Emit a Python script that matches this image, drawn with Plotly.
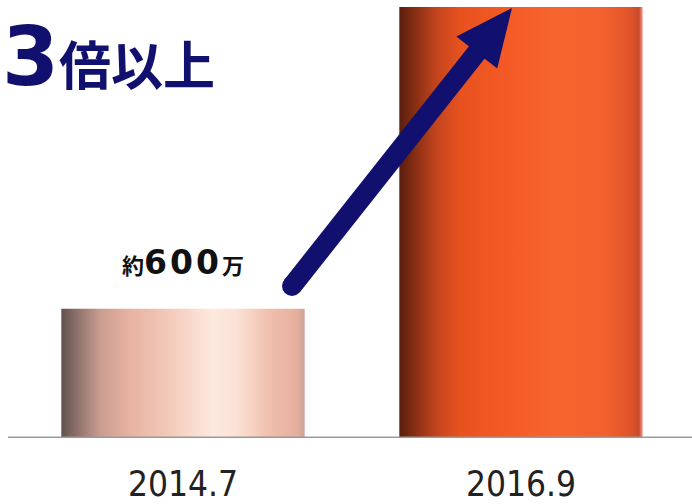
import plotly.graph_objects as go

# ---- data ----
categories = ["2014.7", "2016.9"]
values = [600, 2000]          # 万
value_label = "約600万"
headline = "3倍以上"

# ---- layout constants ----
W, H = 692, 504
ML, MR, MT, MB = 14, 2, 0, 63
YMAX = 2032
BAR_W = 0.72
NAVY = "#12106e"

xpos = list(range(len(categories)))
PW = W - ML - MR
PH = H - MT - MB


def px_to_data(px, py):
    return ((px - ML) / PW * 2 - 0.5, (H - MB - py) / PH * YMAX)


grad_scales = [
    [[0.0, "#62504c"], [0.06, "#8a6f68"], [0.16, "#c99d90"], [0.28, "#e8b2a1"],
     [0.45, "#f3cbbb"], [0.62, "#fde9df"], [0.72, "#fbe2d6"], [0.85, "#f1c0ae"],
     [0.97, "#e6ae9c"], [1.0, "#c9a49a"]],
    [[0.0, "#5a1e0e"], [0.05, "#7d2a12"], [0.15, "#c2441c"], [0.25, "#e8521f"],
     [0.45, "#f45a25"], [0.65, "#f7652f"], [0.85, "#f1602e"], [0.95, "#e0542a"],
     [0.985, "#c94a2c"], [1.0, "#f0a090"]],
]

fig = go.Figure()

# gradient fills of the bars (built from the data)
for x, v, cs in zip(xpos, values, grad_scales):
    fig.add_trace(go.Scatter(
        x=[x - BAR_W / 2, x + BAR_W / 2, x + BAR_W / 2, x - BAR_W / 2, x - BAR_W / 2],
        y=[0, 0, v, v, 0],
        mode="lines", line=dict(width=0), fill="toself",
        fillgradient=dict(type="horizontal", colorscale=cs),
        hoverinfo="skip", showlegend=False,
    ))

# the bars themselves (texture layer)
fig.add_trace(go.Bar(
    x=xpos, y=values, width=BAR_W,
    marker=dict(color="rgba(0,0,0,0)", line=dict(width=0),
                pattern=dict(shape=".", fgcolor="rgba(255,255,255,0.18)",
                             bgcolor="rgba(0,0,0,0)", size=4, solidity=0.3)),
    hoverinfo="skip", showlegend=False,
))

shapes = []
# baseline
shapes.append(dict(type="line", xref="paper", yref="y", x0=-6 / PW, x1=1 + 2 / PW,
                   y0=0, y1=0, line=dict(color="#999999", width=3)))

# arrow (pixel geometry converted to data space)
tail = (292, 288)
tip = (512, 8)
dx, dy = tip[0] - tail[0], tip[1] - tail[1]
L = (dx * dx + dy * dy) ** 0.5
ux, uy = dx / L, dy / L
nx, ny = -uy, ux
half_w = 10
head_len, head_half = 57, 26
base = (tip[0] - head_len * ux, tip[1] - head_len * uy)
shaft_end = (base[0] + 2 * ux, base[1] + 2 * uy)


def P(p):
    d = px_to_data(*p)
    return f"{d[0]:.5f},{d[1]:.3f}"


shaft = [
    (tail[0] + half_w * nx, tail[1] + half_w * ny),
    (shaft_end[0] + half_w * nx, shaft_end[1] + half_w * ny),
    (shaft_end[0] - half_w * nx, shaft_end[1] - half_w * ny),
    (tail[0] - half_w * nx, tail[1] - half_w * ny),
]
shapes.append(dict(type="path", xref="x", yref="y",
                   path="M" + " L".join(P(p) for p in shaft) + " Z",
                   fillcolor=NAVY, line=dict(width=0)))
head = [
    tip,
    (base[0] + head_half * nx, base[1] + head_half * ny),
    (base[0] - head_half * nx, base[1] - head_half * ny),
]
shapes.append(dict(type="path", xref="x", yref="y",
                   path="M" + " L".join(P(p) for p in head) + " Z",
                   fillcolor=NAVY, line=dict(width=0)))
c0 = px_to_data(tail[0] - half_w, tail[1] + half_w)
c1 = px_to_data(tail[0] + half_w, tail[1] - half_w)
shapes.append(dict(type="circle", xref="x", yref="y", x0=c0[0], y0=c0[1],
                   x1=c1[0], y1=c1[1], fillcolor=NAVY, line=dict(width=0)))

annotations = [
    dict(x=xpos[0], y=values[0], xref="x", yref="y", yanchor="bottom", yshift=25,
         text=("<span style='font-size:22px'>約</span>"
               "<span style='letter-spacing:3px'>600</span>"
               "<span style='font-size:22px'>万</span>"),
         showarrow=False,
         font=dict(family="DejaVu Sans, Noto Sans CJK JP", size=33, color="#111111",
                   weight="bold")),
    dict(x=-ML / PW, y=1, xref="paper", yref="paper", xanchor="left", yanchor="top",
         xshift=0, yshift=-7,
         text="<span style='font-size:82px'>3</span>倍以上",
         showarrow=False,
         font=dict(family="DejaVu Sans, Noto Sans CJK JP", size=52, color=NAVY,
                   weight="bold")),
]

fig.update_layout(
    width=W, height=H,
    margin=dict(l=ML, r=MR, t=MT, b=MB),
    paper_bgcolor="white", plot_bgcolor="white",
    shapes=shapes, annotations=annotations,
    xaxis=dict(range=[-0.5, 1.5], tickvals=xpos, ticktext=categories,
               showgrid=False, zeroline=False, showline=False, ticks="",
               ticklabelstandoff=22,
               tickfont=dict(family="Liberation Sans Narrow, DejaVu Sans Condensed, Liberation Sans",
                             size=35, color="#222222")),
    yaxis=dict(range=[0, YMAX], visible=False),
    bargap=0,
)

fig.write_html("out.html", config={"displayModeBar": False},
               post_script="document.body.style.margin='0';document.body.style.overflow='hidden';")
